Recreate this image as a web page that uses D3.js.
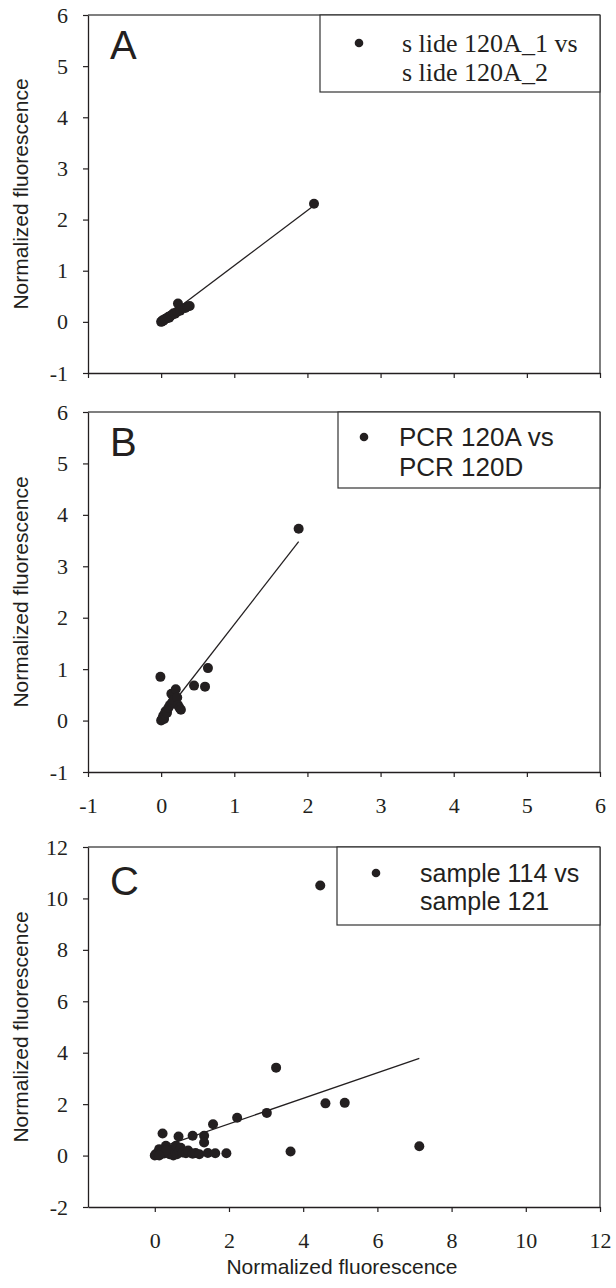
<!DOCTYPE html>
<html><head><meta charset="utf-8">
<script src="https://cdn.jsdelivr.net/npm/d3@7"></script>
<style>body{margin:0;background:#fff}svg{display:block}</style>
</head><body>
<svg id="c" width="616" height="1288"></svg>
<script>
// ---- data ----
const aX = [0,0.01,0.02,0.03,0.05,0.06,0.08,0.1,0.11,0.13,0.15,0.17,0.19,0.22,0.23,0.26,0.33,0.36,0.39,2.09];
const aY = [0,0.01,0.03,0.02,0.05,0.06,0.07,0.1,0.08,0.12,0.14,0.17,0.16,0.2,0.36,0.22,0.27,0.3,0.31,2.31];
const aFit = [1.08, 0.02]; // slope, intercept

const bX = [0,0.01,0.02,0.03,0.04,0.05,0.06,0.08,0.1,0.12,0.14,0.15,0.17,0.2,0.22,0.23,0.25,0.27,-0.01,0.45,0.6,0.64,1.88];
const bY = [0,0.02,0.05,0.1,0.03,0.12,0.18,0.15,0.25,0.3,0.52,0.35,0.4,0.61,0.45,0.3,0.25,0.21,0.85,0.68,0.66,1.02,3.73];
const bFit = [1.83, 0.04];

const cX = [0,0.02,0.05,0.08,0.1,0.12,0.15,0.18,0.2,0.25,0.3,0.35,0.4,0.45,0.48,0.5,0.55,0.57,0.6,0.66,0.7,0.75,0.84,0.9,1.02,1.1,1.2,1.43,1.63,1.93,0.21,0.64,1.02,1.33,1.33,1.57,2.22,3.02,3.27,3.66,4.6,5.12,7.13,4.46,0.3,0.12];
const cY = [0,0.05,0.02,0.1,0.15,0.25,0.05,0.12,0.2,0.08,0.38,0.15,0.05,0.2,0.25,0,0.1,0.38,0.05,0.18,0.3,0.12,0.09,0.2,0.07,0.1,0.05,0.1,0.09,0.09,0.86,0.74,0.77,0.77,0.51,1.22,1.47,1.66,3.42,0.16,2.03,2.05,0.36,10.5,0.2,0];
const cFit = [0.496, 0.24];

const ticks67 = [-1,0,1,2,3,4,5,6];
const ticksCY = [-2,0,2,4,6,8,10,12];
const ticksCX = [0,2,4,6,8,10,12];

const legendA = ["s lide 120A_1 vs", "s lide 120A_2"];
const legendB = ["PCR 120A vs", "PCR 120D"];
const legendC = ["sample 114 vs", "sample 121"];
const axisTitle = "Normalized fluorescence";

// ---- drawing ----
const ink = '#231f20';
const SERIF = 'Liberation Serif';
const SANS = 'Liberation Sans';
const svg = d3.select('#c');

function panel(o){
  const x = d3.scaleLinear().domain(o.xd).range([88,600]);
  const y = d3.scaleLinear().domain(o.yd).range([o.bottom,o.top]);
  const g = svg.append('g');
  g.append('line').attr('x1',88).attr('x2',600).attr('y1',o.top).attr('y2',o.top)
    .attr('stroke','#555').attr('stroke-width',1.5);
  g.append('line').attr('x1',600).attr('x2',600).attr('y1',o.top).attr('y2',o.bottom)
    .attr('stroke','#555').attr('stroke-width',1.5);
  const fmt = d => String(d);
  const ya = g.append('g').attr('transform','translate(88,0)')
    .call(d3.axisLeft(y).tickValues(o.yt).tickSize(5).tickPadding(15).tickSizeOuter(0).tickFormat(fmt));
  const xa = g.append('g').attr('transform',`translate(0,${o.bottom})`)
    .call(d3.axisBottom(x).tickValues(o.xt).tickSize(5).tickPadding(20).tickSizeOuter(0).tickFormat(fmt));
  [ya,xa].forEach(a=>{
    a.attr('font-family',SERIF).attr('font-size',22);
    a.select('.domain').attr('stroke',ink).attr('stroke-width',1.3);
    a.selectAll('.tick line').attr('stroke',ink).attr('stroke-width',1.2);
    a.selectAll('text').attr('font-family',SERIF).attr('font-size',22).attr('fill',ink);
  });
  if(!o.xlabels) xa.selectAll('text').remove();
  const x0 = 0, x1 = d3.max(o.xs);
  g.append('line')
    .attr('x1',x(x0)).attr('y1',y(o.fit[1]+o.fit[0]*x0))
    .attr('x2',x(x1)).attr('y2',y(o.fit[1]+o.fit[0]*x1))
    .attr('stroke',ink).attr('stroke-width',1.3);
  g.selectAll('circle.pt').data(o.xs.map((v,i)=>[v,o.ys[i]])).join('circle')
    .attr('class','pt').attr('cx',d=>x(d[0])).attr('cy',d=>y(d[1])).attr('r',5).attr('fill',ink);
  g.append('text').attr('font-family',SANS).attr('x',110).attr('y',o.top+o.letterDy).text(o.letter)
    .attr('font-size',40).attr('fill',ink);
  const L = o.leg;
  g.append('rect').attr('x',L.x).attr('y',o.top).attr('width',600-L.x).attr('height',L.h)
    .attr('fill','#fff').attr('stroke','#333').attr('stroke-width',1.2);
  g.append('circle').attr('cx',L.dx).attr('cy',o.top+L.dy).attr('r',4.3).attr('fill',ink);
  L.lines.forEach((t,i)=>{
    g.append('text').attr('font-family',L.font).attr('x',L.tx).attr('y',o.top+L.b1+i*L.lh).text(t)
      .attr('font-size',L.fs).attr('fill',ink);
  });
  g.append('text').attr('font-family',SANS).attr('transform',`translate(28,${(o.top+o.bottom)/2}) rotate(-90)`)
    .attr('text-anchor','middle').text(axisTitle)
    .attr('font-size',21).attr('fill',ink);
  return {x,y};
}

panel({top:15,bottom:373,xd:[-1,6],yd:[-1,6],xt:ticks67,yt:ticks67,xlabels:false,
  xs:aX,ys:aY,fit:aFit,letter:'A',letterDy:44,
  leg:{x:320,h:77,dx:359,dy:28,tx:402,b1:37,lh:29,fs:26,font:SERIF,lines:legendA}});
panel({top:412,bottom:772,xd:[-1,6],yd:[-1,6],xt:ticks67,yt:ticks67,xlabels:true,
  xs:bX,ys:bY,fit:bFit,letter:'B',letterDy:44,
  leg:{x:338,h:76,dx:364,dy:25,tx:399,b1:34,lh:30,fs:26,font:SANS,lines:legendB}});
panel({top:847,bottom:1207,xd:[-1.8,12],yd:[-2,12],xt:ticksCX,yt:ticksCY,xlabels:true,
  xs:cX,ys:cY,fit:cFit,letter:'C',letterDy:48,
  leg:{x:337,h:78,dx:376,dy:26,tx:420,b1:35,lh:28,fs:25,font:SANS,lines:legendC}});

svg.append('text').attr('font-family',SANS).attr('x',342).attr('y',1274).attr('text-anchor','middle').text(axisTitle)
  .attr('font-size',21).attr('fill',ink);
</script>
</body></html>
